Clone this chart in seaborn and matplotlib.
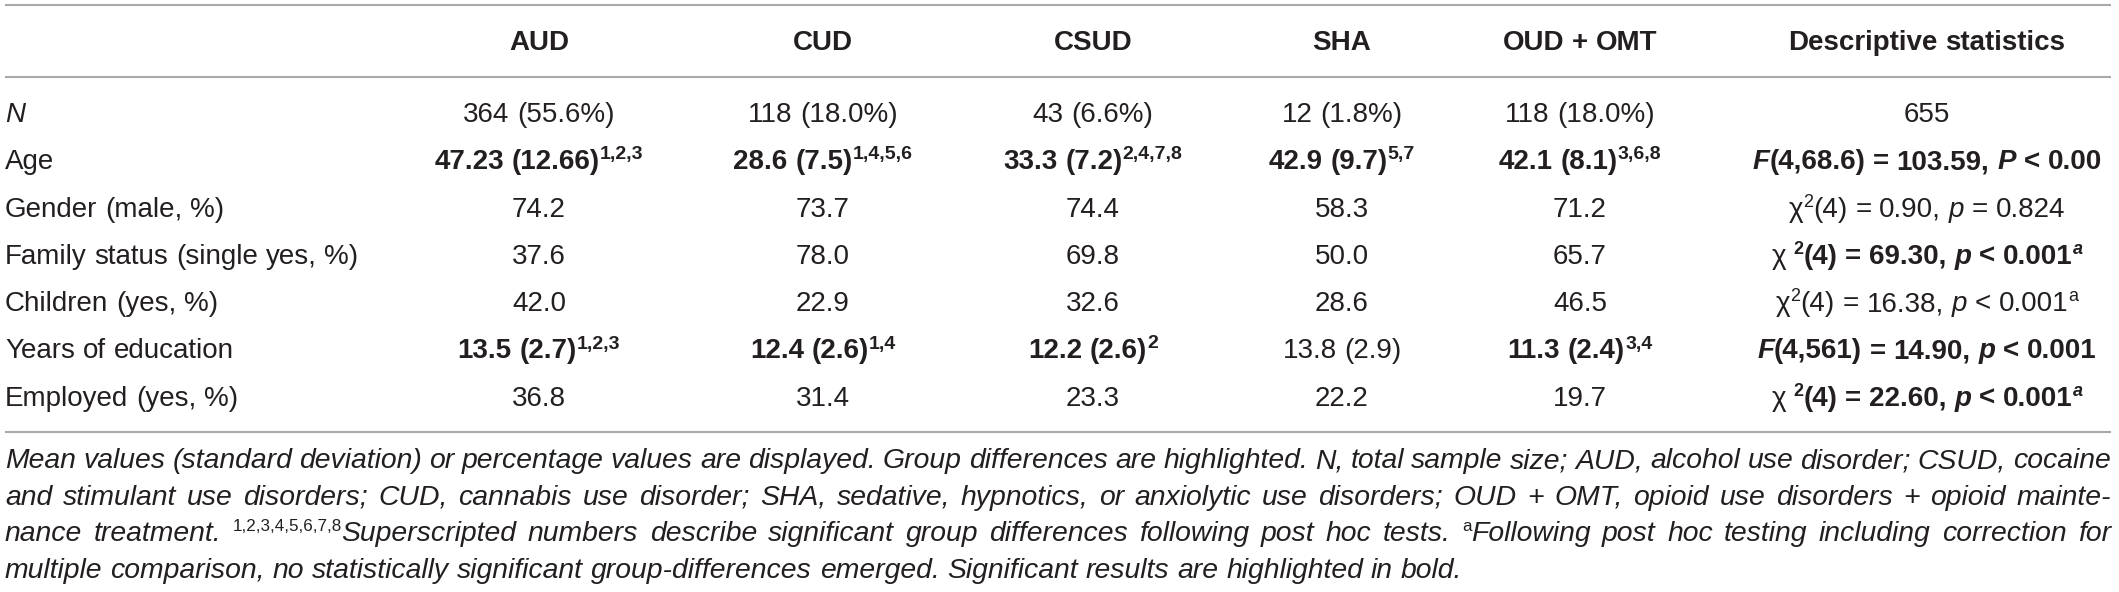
import re
import matplotlib
matplotlib.use("Agg")
import matplotlib.pyplot as plt
import seaborn as sns

# table content
groups = ["AUD", "CUD", "CSUD", "SHA", "OUD + OMT"]
stats_header = "Descriptive statistics"
row_labels = ["N", "Age", "Gender (male, %)", "Family status (single yes, %)",
              "Children (yes, %)", "Years of education", "Employed (yes, %)"]

n_count = ["364", "118", "43", "12", "118"]
n_pct = ["55.6", "18.0", "6.6", "1.8", "18.0"]
n_total = "655"
age_mean = ["47.23", "28.6", "33.3", "42.9", "42.1"]
age_sd = ["12.66", "7.5", "7.2", "9.7", "8.1"]
age_sup = ["1,2,3", "1,4,5,6", "2,4,7,8", "5,7", "3,6,8"]
male_pct = ["74.2", "73.7", "74.4", "58.3", "71.2"]
single_pct = ["37.6", "78.0", "69.8", "50.0", "65.7"]
children_pct = ["42.0", "22.9", "32.6", "28.6", "46.5"]
edu_mean = ["13.5", "12.4", "12.2", "13.8", "11.3"]
edu_sd = ["2.7", "2.6", "2.6", "2.9", "2.4"]
edu_sup = ["1,2,3", "1,4", "2", "", "3,4"]
employed_pct = ["36.8", "31.4", "23.3", "22.2", "19.7"]

# descriptive statistics column (row 0 is the total N)
stat_kind = [None, "F", "chi", "chi", "chi", "F", "chi"]
stat_df = [None, "4,68.6", "4", "4", "4", "4,561", "4"]
stat_value = [None, "103.59", "0.90", "69.30", "16.38", "14.90", "22.60"]
stat_p_letter = [None, "P", "p", "p", "p", "p", "p"]
stat_p = [None, "< 0.00", "= 0.824", "< 0.001", "< 0.001", "< 0.001", "< 0.001"]
stat_sig = [None, True, False, True, False, True, True]
stat_note = [None, "", "", "a", "a", "", "a"]

footnote = [
    [("Mean values (standard deviation) or percentage values are displayed. Group differences are highlighted. "
      "N, total sample size; AUD, alcohol use disorder; CSUD, cocaine", 0, 1, 0)],
    [("and stimulant use disorders; CUD, cannabis use disorder; SHA, sedative, hypnotics, or anxiolytic use "
      "disorders; OUD + OMT, opioid use disorders + opioid mainte-", 0, 1, 0)],
    [("nance treatment. ", 0, 1, 0), ("1,2,3,4,5,6,7,8", 0, 0, 1),
     ("Superscripted numbers describe significant group differences following post hoc tests. ", 0, 1, 0),
     ("a", 0, 0, 1), ("Following post hoc testing including correction for", 0, 1, 0)],
    [("multiple comparison, no statistically significant group-differences emerged. "
      "Significant results are highlighted in bold.", 0, 1, 0)],
]

W, H = 2119, 592
TXT = "#231f20"
col_x = [539, 823, 1093, 1342, 1580, 1927]
label_x = 5
header_y = 50
row_y0, row_dy = 122, 47.3
note_y0, note_dy = 468, 36.7

sns.set_theme(style="white")
plt.rcParams["font.family"] = ["Liberation Sans", "DejaVu Sans"]

fig = plt.figure(figsize=(W / 100, H / 100), dpi=100)
ax = fig.add_axes([0, 0, 1, 1])
ax.set_xlim(0, W)
ax.set_ylim(H, 0)
ax.axis("off")
renderer = fig.canvas.get_renderer()


def text_width(s, size, bold, italic):
    t = ax.text(0, 0, s, fontsize=size, fontweight="bold" if bold else "normal",
                fontstyle="italic" if italic else "normal")
    w = t.get_window_extent(renderer).width
    t.remove()
    return w


def draw_runs(runs, x, y, size, ha="center", width=None, sup_scale=0.65):
    pieces = []
    for text, bold, italic, sup in runs:
        for tok in re.split(r"( )", text):
            if tok:
                pieces.append((tok, bold, italic, sup))
    sizes, widths = [], []
    for tok, bold, italic, sup in pieces:
        fs = size * sup_scale if sup else size
        if tok == " ":
            w = text_width("x x", fs, bold, italic) - text_width("xx", fs, bold, italic)
        else:
            w = text_width(tok, fs, bold, italic)
        sizes.append(fs)
        widths.append(w)
    total = sum(widths)
    extra = 0
    if width is not None:
        n_sp = sum(1 for p in pieces if p[0] == " ")
        extra = (width - total) / max(n_sp, 1)
        start = x
    elif ha == "center":
        start = x - total / 2
    else:
        start = x
    cur = start
    for (tok, bold, italic, sup), fs, w in zip(pieces, sizes, widths):
        if tok == " ":
            cur += w + extra
            continue
        ax.text(cur, y - (size * 0.5 if sup else 0), tok, fontsize=fs, color=TXT,
                fontweight="bold" if bold else "normal",
                fontstyle="italic" if italic else "normal",
                ha="left", va="baseline")
        cur += w


BODY = 20
NOTE = 20.4

# rules
ax.hlines([5, 77, 432], 5, 2111, color="#a9a9a9", lw=1.5)

# header
for x, name in zip(col_x, groups + [stats_header]):
    draw_runs([(name, 1, 0, 0)], x, header_y, BODY)

# row labels
for i, lab in enumerate(row_labels):
    draw_runs([(lab, 0, 1 if lab == "N" else 0, 0)], label_x, row_y0 + i * row_dy, BODY, ha="left")

# group cells
for j in range(len(groups)):
    cells = [
        [(f"{n_count[j]} ({n_pct[j]}%)", 0, 0, 0)],
        [(f"{age_mean[j]} ({age_sd[j]})", 1, 0, 0), (age_sup[j], 1, 0, 1)],
        [(male_pct[j], 0, 0, 0)],
        [(single_pct[j], 0, 0, 0)],
        [(children_pct[j], 0, 0, 0)],
        [(f"{edu_mean[j]} ({edu_sd[j]})", 1 if edu_sup[j] else 0, 0, 0), (edu_sup[j], 1, 0, 1)],
        [(employed_pct[j], 0, 0, 0)],
    ]
    for i, runs in enumerate(cells):
        runs = [r for r in runs if r[0]]
        draw_runs(runs, col_x[j], row_y0 + i * row_dy, BODY, sup_scale=0.7)

# statistics column
for i in range(len(row_labels)):
    if stat_kind[i] is None:
        runs = [(n_total, 0, 0, 0)]
    else:
        b = 1 if stat_sig[i] else 0
        if stat_kind[i] == "F":
            runs = [("F", b, 1, 0)]
        else:
            runs = [("\u03c7 " if b else "\u03c7", 0, 0, 0), ("2", b, 0, 1)]
        runs += [(f"({stat_df[i]}) = {stat_value[i]}, ", b, 0, 0),
                 (stat_p_letter[i], b, 1, 0), (" " + stat_p[i], b, 0, 0)]
        if stat_note[i]:
            runs.append((stat_note[i], b, b, 1))
    draw_runs(runs, col_x[5], row_y0 + i * row_dy, BODY)

# footnote
for k, line in enumerate(footnote):
    draw_runs(line, label_x, note_y0 + k * note_dy, NOTE, ha="left",
              width=2106 if k < len(footnote) - 1 else None, sup_scale=0.6)

fig.savefig("out.png", dpi=100)
